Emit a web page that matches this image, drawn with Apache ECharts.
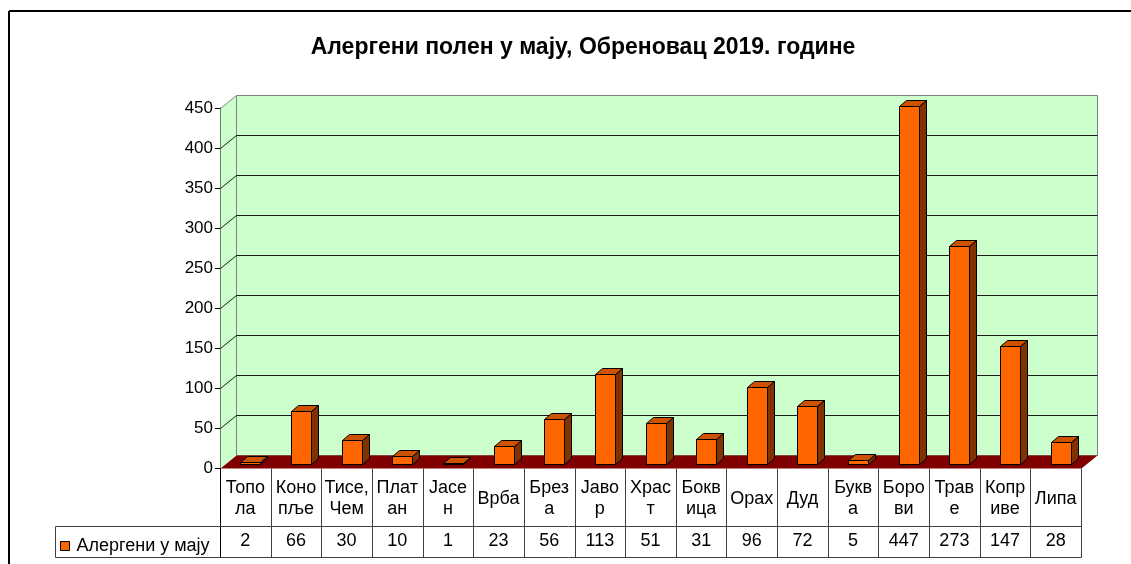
<!DOCTYPE html>
<html>
<head>
<meta charset="utf-8">
<script src="https://cdn.jsdelivr.net/npm/echarts@6/dist/echarts.min.js"></script>
<style>
  html, body { margin: 0; padding: 0; background: #fff; }
  #chart { width: 1131px; height: 564px; }
</style>
</head>
<body>
<div id="chart"></div>
<script>
// Pollen counts per plant type, May 2019
const titleText = 'Алергени полен у мају, Обреновац 2019. године';
const seriesName = 'Алергени у мају';
const categories = ['Топо\nла', 'Коно\nпље', 'Тисе,\nЧем', 'Плат\nан', 'Јасе\nн', 'Врба', 'Брез\nа', 'Јаво\nр', 'Храс\nт', 'Бокв\nица', 'Орах', 'Дуд', 'Букв\nа', 'Боро\nви', 'Трав\nе', 'Копр\nиве', 'Липа'];
const values = [2, 66, 30, 10, 1, 23, 56, 113, 51, 31, 96, 72, 5, 447, 273, 147, 28];
const yMin = 0, yMax = 450, yStep = 50;

const FONT = '"Liberation Sans", Arial, sans-serif';
const TABLE_FONT = 18;
const DEPTH = [16, -13];      // offset of the back wall from the front plane
const HEADER_H = 57.5;        // category row of the data table
const TABLE_H = 88;           // both rows of the data table
const LEGEND_X = 55;

const chart = echarts.init(document.getElementById('chart'));

function crisp(v) { return Math.round(v) + 0.5; }

// Walls, floor, gridlines and data-table rules
function renderFrame(params, api) {
  const bw = api.size([1, 0])[0];
  const c0 = api.coord([0, yMin]);
  const cN = api.coord([categories.length - 1, yMin]);
  const L = crisp(c0[0] - bw / 2), R = crisp(cN[0] + bw / 2);
  const yb = crisp(c0[1]);
  const yt = crisp(api.coord([0, yMax])[1]);
  const [dx, dy] = DEPTH;
  const kids = [];
  kids.push({ type: 'polygon', shape: { points: [[L, yt], [L + dx, yt + dy], [L + dx, yb + dy], [L, yb]] },
    style: { fill: '#CCFFCC', stroke: null } });
  kids.push({ type: 'rect', shape: { x: L + dx, y: yt + dy, width: R - L, height: yb - yt },
    style: { fill: '#CCFFCC', stroke: '#808080', lineWidth: 1 } });
  for (let v = yMin + yStep; v < yMax; v += yStep) {
    const y = crisp(api.coord([0, v])[1]);
    kids.push({ type: 'line', shape: { x1: L + dx, y1: y + dy, x2: R + dx, y2: y + dy },
      style: { stroke: '#1a1a1a', lineWidth: 1 } });
    kids.push({ type: 'line', shape: { x1: L, y1: y, x2: L + dx, y2: y + dy },
      style: { stroke: '#1a1a1a', lineWidth: 1 } });
  }
  kids.push({ type: 'line', shape: { x1: L, y1: yt, x2: L + dx, y2: yt + dy },
    style: { stroke: '#808080', lineWidth: 1 } });
  kids.push({ type: 'polygon', shape: { points: [[L, yb], [R, yb], [R + dx, yb + dy], [L + dx, yb + dy]] },
    style: { fill: '#800000', stroke: null } });

  // data table
  const yh = crisp(yb + HEADER_H), ye = crisp(yb + TABLE_H);
  for (let k = 0; k <= categories.length; k++) {
    const x = crisp(c0[0] - bw / 2 + k * bw);
    kids.push({ type: 'line', shape: { x1: x, y1: yb, x2: x, y2: ye },
      style: { stroke: k === 0 ? '#000' : '#404040', lineWidth: 1 } });
  }
  kids.push({ type: 'line', shape: { x1: LEGEND_X + 0.5, y1: yh, x2: R, y2: yh }, style: { stroke: '#404040', lineWidth: 1 } });
  kids.push({ type: 'line', shape: { x1: LEGEND_X + 0.5, y1: ye, x2: R, y2: ye }, style: { stroke: '#404040', lineWidth: 1 } });
  kids.push({ type: 'line', shape: { x1: LEGEND_X + 0.5, y1: yh, x2: LEGEND_X + 0.5, y2: ye }, style: { stroke: '#404040', lineWidth: 1 } });
  return { type: 'group', children: kids };
}

// 3D columns plus the value cell of the data table
function renderBar(params, api) {
  const i = api.value(0), v = api.value(1);
  const base = api.coord([i, yMin]);
  const top = api.coord([i, v]);
  const w = 20, ddx = 7, ddy = -6;
  const fx = Math.round(base[0] - w / 2 + 5) + 0.5;
  const fy0 = Math.round(base[1] - 4) + 0.5;
  const fy1 = Math.min(fy0 - 1, Math.round(top[1] - 4) + 0.5);
  const edge = { stroke: '#000', lineWidth: 1 };
  return {
    type: 'group',
    children: [
      { type: 'polygon', shape: { points: [[fx + w, fy1], [fx + w + ddx, fy1 + ddy], [fx + w + ddx, fy0 + ddy], [fx + w, fy0]] },
        style: Object.assign({ fill: '#803300' }, edge) },
      { type: 'polygon', shape: { points: [[fx, fy1], [fx + ddx, fy1 + ddy], [fx + w + ddx, fy1 + ddy], [fx + w, fy1]] },
        style: Object.assign({ fill: '#CC5200' }, edge) },
      { type: 'rect', shape: { x: fx, y: fy1, width: w, height: fy0 - fy1 },
        style: Object.assign({ fill: '#FF6600' }, edge) },
      { type: 'text', x: base[0], y: base[1] + 73,
        style: { text: String(v), fill: '#000', font: TABLE_FONT + 'px ' + FONT, align: 'center', verticalAlign: 'middle' } }
    ]
  };
}

chart.setOption({
  animation: false,
  backgroundColor: '#fff',
  textStyle: { fontFamily: FONT },
  title: {
    text: titleText, left: 578, top: 31, textAlign: 'center',
    textStyle: { fontSize: 23, fontWeight: 'bold', color: '#000', fontFamily: FONT }
  },
  legend: {
    data: [seriesName], left: 55, top: 532, icon: 'rect', itemWidth: 9, itemHeight: 9, itemGap: 4,
    itemStyle: { color: '#FF6600', borderColor: '#000', borderWidth: 1 },
    textStyle: { fontSize: TABLE_FONT, color: '#000', fontFamily: FONT, padding: [0, 0, 0, 2] }
  },
  grid: { left: 220, right: 50, top: 108, bottom: 96 },
  xAxis: {
    type: 'category', data: categories,
    axisLine: { show: false }, axisTick: { show: false },
    axisLabel: { interval: 0, fontSize: TABLE_FONT, color: '#000', lineHeight: 21, verticalAlign: 'middle', margin: 31, fontFamily: FONT }
  },
  yAxis: {
    type: 'value', min: yMin, max: yMax, interval: yStep,
    axisLine: { show: true, lineStyle: { color: '#000', width: 1 } },
    axisTick: { show: true, length: 5, lineStyle: { color: '#000' } },
    axisLabel: { fontSize: 17, color: '#000', margin: 7, fontFamily: FONT },
    splitLine: { show: false }
  },
  graphic: [
    { type: 'line', shape: { x1: 9, y1: 11, x2: 1131, y2: 11 }, style: { stroke: '#000', lineWidth: 2 } },
    { type: 'line', shape: { x1: 9, y1: 11, x2: 9, y2: 564 }, style: { stroke: '#000', lineWidth: 2 } },
    { type: 'line', shape: { x1: 220.5, y1: 468, x2: 220.5, y2: 556 }, style: { stroke: '#000', lineWidth: 1 } }
  ],
  series: [
    { type: 'custom', name: 'frame', data: [0], renderItem: renderFrame, z: 1, silent: true, clip: false },
    { type: 'custom', name: seriesName, data: values.map((v, i) => [i, v]), renderItem: renderBar, z: 3, clip: false,
      itemStyle: { color: '#FF6600', borderColor: '#000', borderWidth: 1 },
      encode: { x: 0, y: 1 } }
  ]
});
</script>
</body>
</html>
